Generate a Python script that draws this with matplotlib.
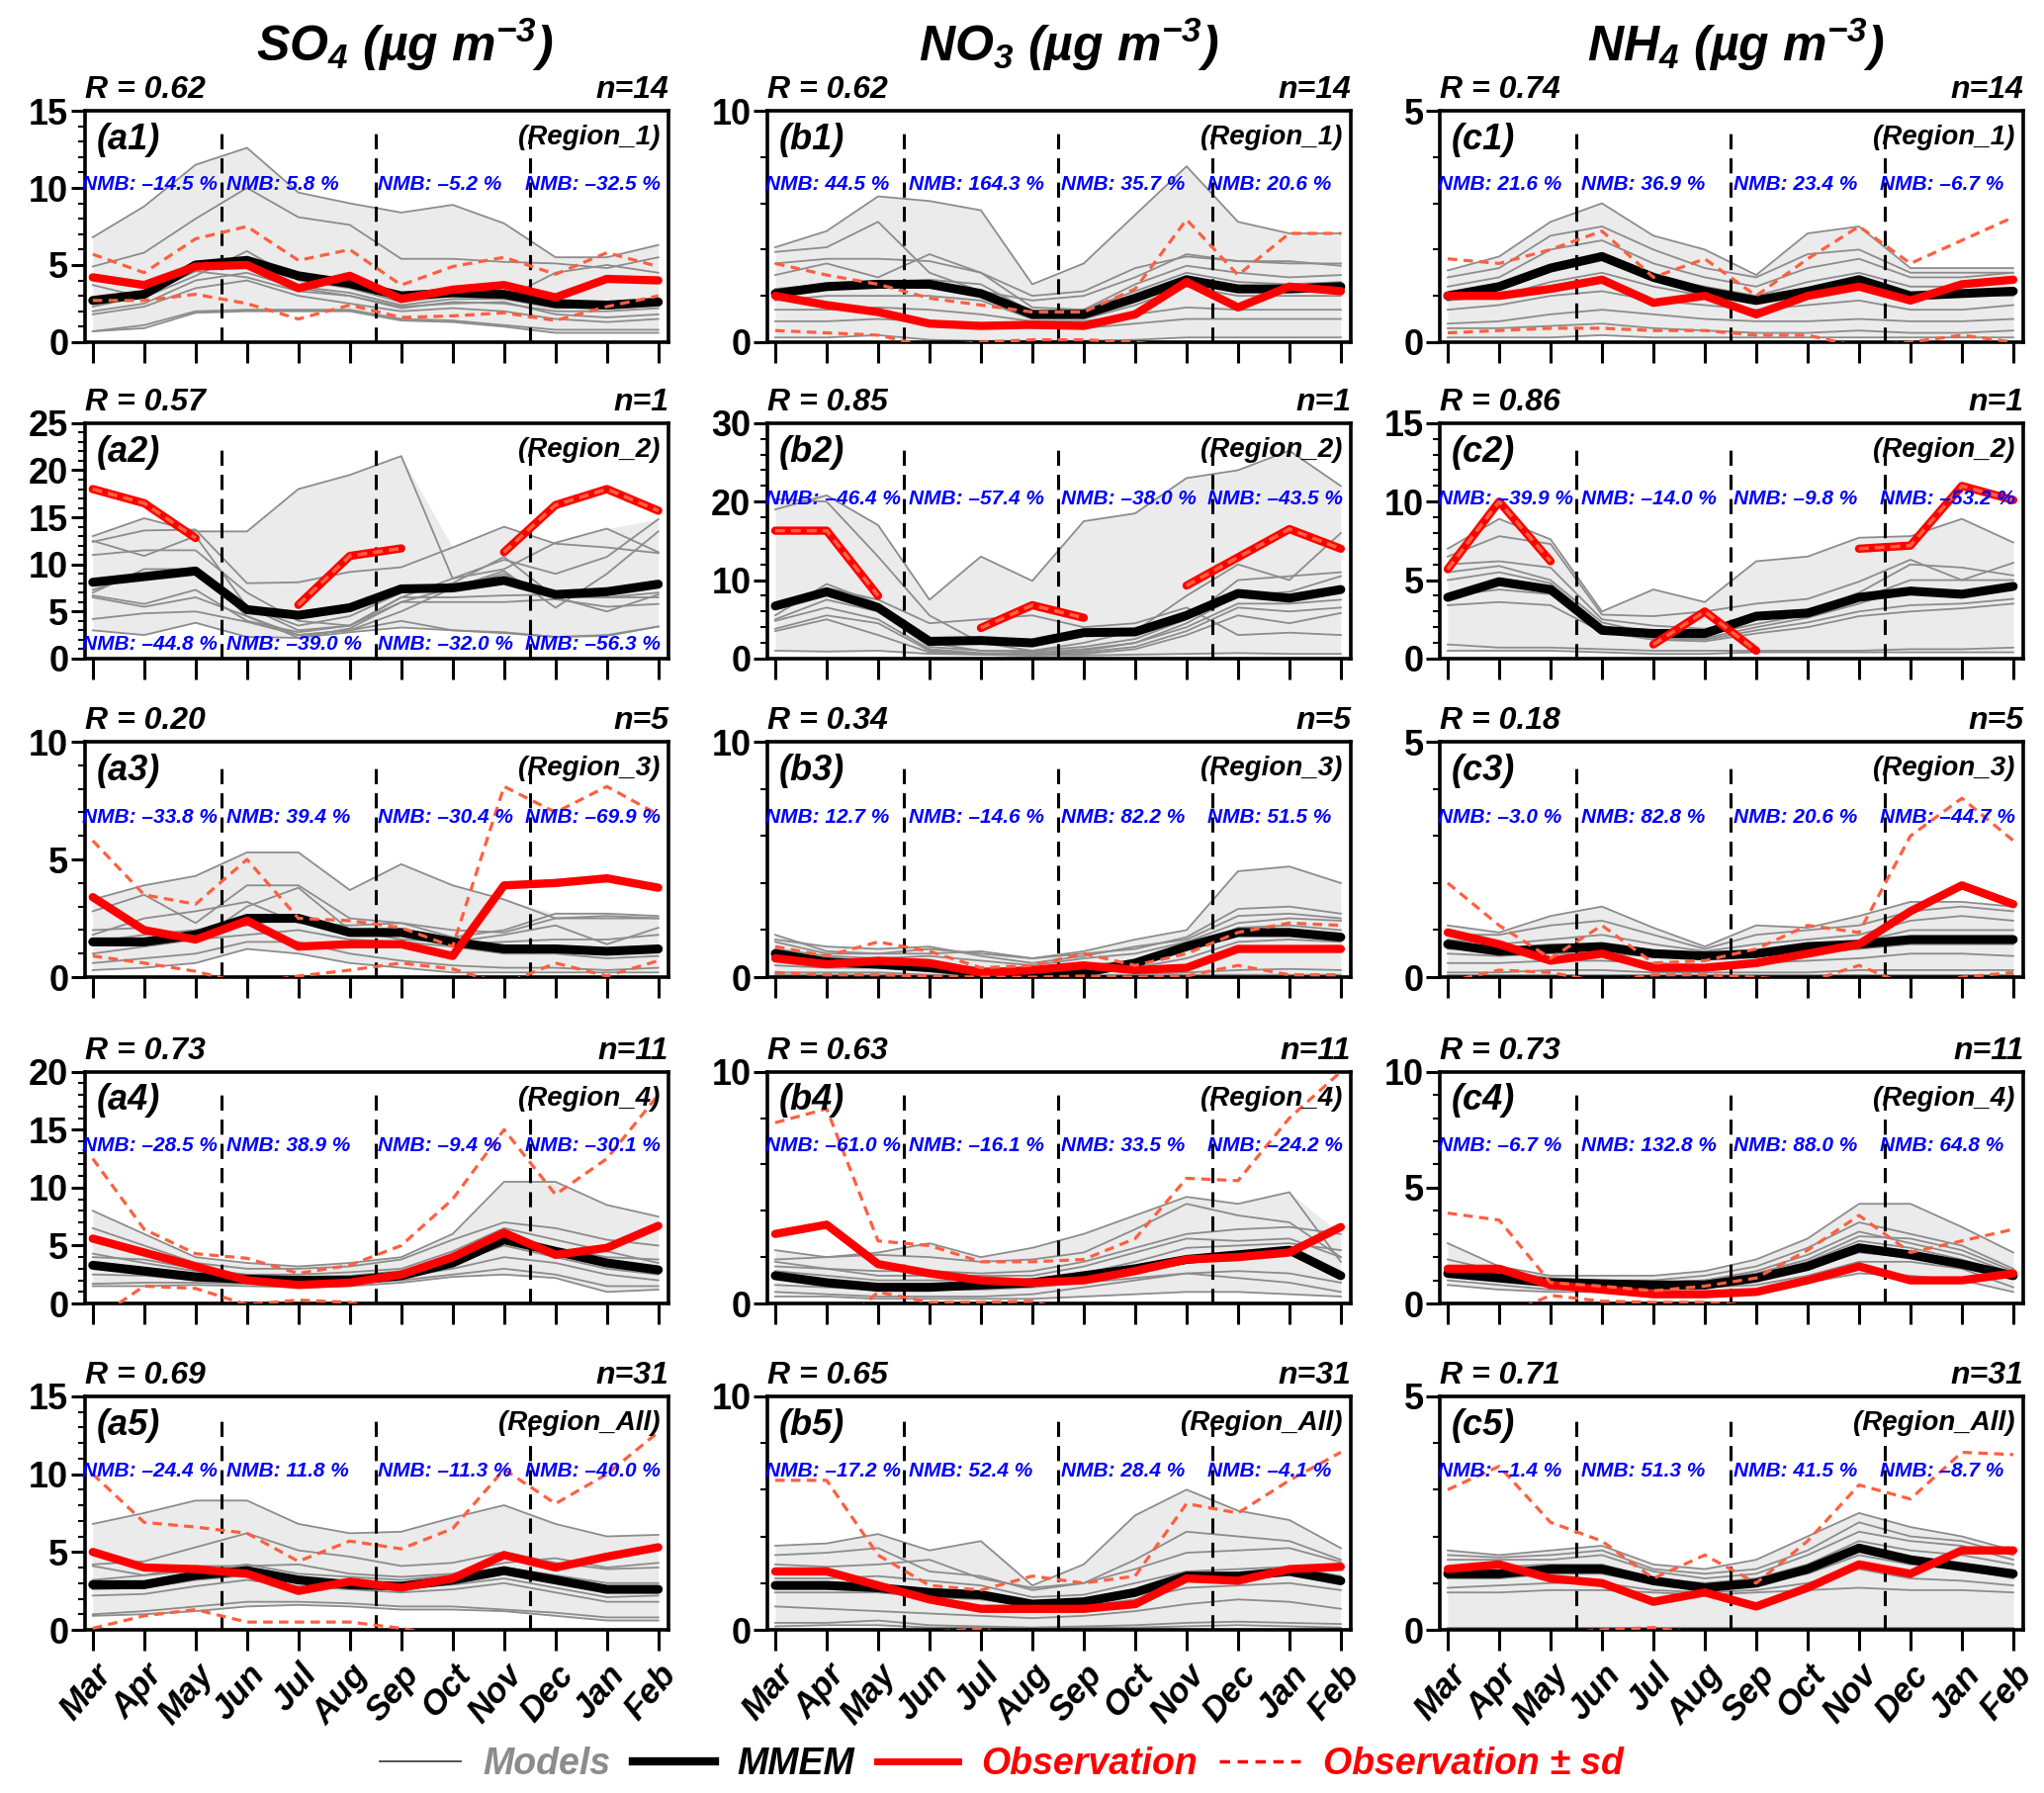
import numpy as np
import matplotlib
matplotlib.use("Agg")
import matplotlib.pyplot as plt
from matplotlib.lines import Line2D
from matplotlib.ticker import MultipleLocator

plt.rcParams['font.family'] = ['Liberation Sans', 'DejaVu Sans']
plt.rcParams['mathtext.fontset'] = 'custom'
plt.rcParams['mathtext.rm'] = 'Liberation Sans:bold:italic'
plt.rcParams['mathtext.it'] = 'Liberation Sans:bold:italic'
plt.rcParams['mathtext.bf'] = 'Liberation Sans:bold:italic'

nan = np.nan
months = ['Mar', 'Apr', 'May', 'Jun', 'Jul', 'Aug', 'Sep', 'Oct', 'Nov', 'Dec', 'Jan', 'Feb']
species = [r'SO$_4$ (µg m$^{-3}$)', r'NO$_3$ (µg m$^{-3}$)', r'NH$_4$ (µg m$^{-3}$)']
regions = ['Region_1', 'Region_2', 'Region_3', 'Region_4', 'Region_All']
n_sites = [14, 1, 5, 11, 31]
r_so4 = [0.62, 0.57, 0.20, 0.73, 0.69]
r_no3 = [0.62, 0.85, 0.34, 0.63, 0.65]
r_nh4 = [0.74, 0.86, 0.18, 0.73, 0.71]

nmb_so4 = [[-14.5, 5.8, -5.2, -32.5], [-44.8, -39.0, -32.0, -56.3], [-33.8, 39.4, -30.4, -69.9],
           [-28.5, 38.9, -9.4, -30.1], [-24.4, 11.8, -11.3, -40.0]]
nmb_no3 = [[44.5, 164.3, 35.7, 20.6], [-46.4, -57.4, -38.0, -43.5], [12.7, -14.6, 82.2, 51.5],
           [-61.0, -16.1, 33.5, -24.2], [-17.2, 52.4, 28.4, -4.1]]
nmb_nh4 = [[21.6, 36.9, 23.4, -6.7], [-39.9, -14.0, -9.8, -53.2], [-3.0, 82.8, 20.6, -44.7],
           [-6.7, 132.8, 88.0, 64.8], [-1.4, 51.3, 41.5, -8.7]]

# ---------------- SO4 ----------------
so4_1_obs = [4.2, 3.7, 4.9, 5.0, 3.5, 4.3, 2.8, 3.4, 3.7, 2.9, 4.1, 4.0]
so4_1_mmem = [2.7, 3.1, 5.0, 5.3, 4.3, 3.8, 3.0, 3.2, 3.1, 2.5, 2.4, 2.6]
so4_1_up = [5.7, 4.5, 6.7, 7.5, 5.3, 6.0, 3.7, 4.9, 5.5, 4.4, 5.8, 4.9]
so4_1_lo = [2.7, 2.7, 3.1, 2.5, 1.5, 2.4, 1.6, 1.7, 1.9, 1.4, 2.3, 3.0]
so4_1_models = [
    [6.8, 8.8, 11.5, 12.6, 9.7, 9.0, 8.4, 8.9, 7.7, 5.5, 5.5, 6.3],
    [4.9, 5.8, 8.0, 10.0, 8.1, 7.6, 5.4, 5.4, 5.2, 5.1, 4.8, 5.5],
    [3.7, 2.9, 4.3, 5.9, 4.0, 3.5, 2.6, 3.0, 2.8, 4.5, 5.0, 4.5],
    [2.3, 3.0, 4.6, 4.2, 3.3, 3.0, 2.2, 2.6, 2.5, 2.0, 2.0, 2.2],
    [2.6, 3.2, 4.9, 4.9, 3.6, 3.2, 2.4, 2.8, 2.8, 2.2, 2.3, 2.5],
    [2.0, 2.5, 4.0, 4.5, 3.5, 3.0, 2.3, 2.5, 2.6, 1.8, 1.6, 1.8],
    [1.8, 2.3, 3.5, 4.0, 3.0, 2.5, 2.0, 2.2, 2.0, 1.5, 1.3, 1.5],
    [0.7, 1.1, 2.0, 2.1, 2.1, 2.1, 1.5, 1.4, 1.1, 0.8, 0.8, 0.8],
    [0.7, 0.9, 1.9, 2.0, 2.0, 2.0, 1.4, 1.3, 1.0, 0.6, 0.6, 0.6],
]

so4_2_obs = [18.0, 16.5, 12.8, nan, 5.7, 10.9, 11.7, nan, 11.3, 16.3, 18.0, 15.7]
so4_2_mmem = [8.1, 8.7, 9.3, 5.2, 4.6, 5.4, 7.4, 7.5, 8.3, 6.8, 7.1, 7.9]
so4_2_up = so4_2_obs
so4_2_lo = so4_2_obs
so4_2_models = [
    [13.0, 14.9, 13.5, 13.5, 18.0, 19.5, 21.5, 8.5, 9.5, 12.3, 13.8, 11.3],
    [12.4, 13.6, 13.7, 8.0, 8.1, 9.2, 9.7, 11.8, 14.0, 12.2, 11.8, 11.2],
    [11.0, 11.5, 11.5, 7.0, 4.0, 3.5, 6.5, 8.5, 10.5, 9.0, 10.8, 14.8],
    [12.5, 10.9, 13.0, 5.5, 3.0, 3.5, 6.0, 7.5, 9.3, 5.4, 9.0, 13.5],
    [7.3, 9.0, 9.0, 5.5, 3.5, 4.5, 7.0, 8.0, 10.8, 6.5, 6.5, 7.0],
    [7.0, 9.5, 9.5, 4.5, 2.5, 3.0, 5.0, 7.5, 9.0, 6.5, 5.0, 6.8],
    [6.7, 5.8, 7.3, 4.0, 2.8, 3.5, 6.5, 6.5, 6.7, 6.8, 6.5, 6.5],
    [6.5, 5.5, 6.5, 4.5, 2.2, 3.2, 6.0, 6.0, 6.0, 6.3, 5.5, 5.8],
    [4.2, 4.8, 5.0, 3.9, 2.5, 3.0, 4.0, 3.0, 2.8, 2.3, 2.5, 3.4],
    [3.0, 2.5, 3.8, 2.3, 2.2, 2.8, 3.3, 3.0, 2.7, 2.3, 2.4, 3.4],
]

so4_3_obs = [3.4, 2.0, 1.6, 2.4, 1.3, 1.4, 1.4, 0.9, 3.9, 4.0, 4.2, 3.8]
so4_3_mmem = [1.5, 1.5, 1.8, 2.5, 2.5, 1.9, 1.9, 1.5, 1.2, 1.2, 1.1, 1.2]
so4_3_up = [5.8, 3.5, 3.1, 5.0, 2.5, 2.4, 2.1, 1.3, 8.1, 7.0, 8.1, 6.9]
so4_3_lo = [0.9, 0.6, 0.25, -0.3, 0.05, 0.3, 0.6, 0.35, -0.3, 0.6, 0.05, 0.7]
so4_3_models = [
    [3.3, 3.9, 4.3, 5.3, 5.3, 3.7, 4.8, 3.9, 3.3, 2.5, 2.5, 2.5],
    [2.8, 3.5, 2.3, 3.9, 3.9, 2.5, 2.3, 2.0, 1.9, 2.5, 2.6, 2.5],
    [1.8, 2.5, 2.8, 3.2, 2.3, 2.2, 2.3, 1.7, 2.0, 2.7, 2.7, 2.6],
    [2.0, 2.1, 1.5, 3.0, 3.8, 2.0, 1.6, 1.5, 1.8, 2.2, 1.4, 2.1],
    [1.5, 1.8, 2.0, 2.2, 2.6, 1.8, 1.9, 1.4, 1.5, 1.6, 1.6, 1.8],
    [1.0, 1.3, 1.6, 1.8, 2.0, 1.6, 1.5, 1.3, 1.0, 1.0, 0.8, 0.9],
    [0.6, 0.8, 1.0, 1.5, 1.5, 1.0, 0.7, 0.5, 0.4, 0.4, 0.3, 0.4],
    [0.3, 0.4, 0.6, 1.2, 1.0, 0.6, 0.4, 0.2, 0.2, 0.2, 0.2, 0.2],
]

so4_4_obs = [5.6, 4.4, 3.2, 2.0, 1.6, 1.8, 2.5, 4.0, 6.1, 4.2, 4.8, 6.7]
so4_4_mmem = [3.3, 2.8, 2.3, 2.1, 2.0, 2.0, 2.4, 3.5, 5.5, 4.5, 3.5, 2.9]
so4_4_up = [12.5, 6.4, 4.3, 3.9, 2.6, 3.3, 5.0, 9.0, 15.0, 9.4, 12.5, 18.0]
so4_4_lo = [-1.5, 1.5, 1.3, -0.1, 0.3, 0.1, -1.0, -1.5, -2.0, -1.0, -3.0, -5.0]
so4_4_models = [
    [8.0, 6.0, 4.0, 3.5, 3.2, 3.5, 4.0, 6.0, 10.5, 10.5, 8.5, 7.5],
    [6.5, 5.0, 3.5, 3.0, 3.0, 3.2, 3.8, 5.5, 7.0, 6.5, 5.5, 5.0],
    [4.3, 3.5, 2.8, 2.4, 2.3, 2.4, 2.8, 4.0, 6.0, 4.8, 4.0, 3.8],
    [4.0, 3.8, 3.0, 2.5, 2.5, 2.7, 3.0, 4.5, 6.5, 5.5, 4.5, 3.5],
    [3.5, 3.0, 2.5, 2.2, 2.0, 2.0, 2.5, 3.5, 5.0, 4.0, 3.0, 2.5],
    [2.5, 2.4, 2.0, 1.9, 1.8, 1.9, 2.3, 3.0, 4.0, 3.5, 2.5, 2.0],
    [1.7, 1.8, 1.8, 1.7, 1.6, 1.7, 2.0, 2.5, 3.0, 2.5, 1.5, 1.5],
    [1.5, 1.5, 1.6, 1.5, 1.4, 1.5, 1.8, 2.3, 2.5, 2.2, 1.0, 1.2],
]

so4_5_obs = [5.0, 4.0, 3.9, 3.6, 2.5, 3.1, 2.7, 3.3, 4.8, 4.0, 4.7, 5.3]
so4_5_mmem = [2.9, 2.9, 3.5, 3.8, 3.2, 2.9, 2.8, 3.2, 3.8, 3.2, 2.6, 2.6]
so4_5_up = [10.0, 6.9, 6.6, 6.2, 4.4, 5.7, 5.2, 6.5, 10.3, 8.1, 10.0, 12.7]
so4_5_lo = [0.1, 0.9, 1.3, 0.5, 0.5, 0.5, 0.1, -0.5, -1.0, -0.5, -1.0, -2.0]
so4_5_models = [
    [6.8, 7.5, 8.3, 8.3, 6.8, 6.2, 6.3, 7.2, 8.0, 6.8, 6.0, 6.1],
    [4.2, 4.4, 5.3, 6.2, 5.1, 4.7, 4.1, 4.3, 5.0, 4.3, 3.9, 4.0],
    [4.1, 3.5, 4.1, 4.1, 4.2, 3.6, 3.4, 3.6, 4.3, 4.6, 4.0, 4.3],
    [3.2, 3.5, 3.8, 4.2, 3.6, 3.4, 3.2, 3.5, 4.0, 3.5, 3.0, 3.0],
    [2.6, 2.7, 3.2, 3.5, 3.0, 2.8, 2.7, 2.9, 3.3, 2.7, 2.1, 2.2],
    [2.2, 2.3, 2.8, 3.2, 2.8, 2.6, 2.4, 2.6, 3.0, 2.4, 1.8, 1.8],
    [1.0, 1.2, 1.5, 1.8, 1.8, 1.7, 1.5, 1.5, 1.3, 1.1, 0.8, 0.8],
    [0.9, 1.0, 1.2, 1.5, 1.6, 1.5, 1.3, 1.3, 1.2, 0.9, 0.6, 0.6],
]

# ---------------- NO3 ----------------
no3_1_obs = [2.0, 1.6, 1.3, 0.8, 0.7, 0.75, 0.7, 1.2, 2.6, 1.5, 2.4, 2.2]
no3_1_mmem = [2.1, 2.4, 2.5, 2.5, 2.1, 1.2, 1.2, 1.9, 2.7, 2.3, 2.3, 2.4]
no3_1_up = [3.4, 2.9, 2.5, 1.9, 1.6, 1.3, 1.3, 2.3, 5.3, 2.9, 4.7, 4.7]
no3_1_lo = [0.5, 0.4, 0.3, -0.2, 0.0, 0.1, 0.1, 0.0, -0.3, -0.3, -0.5, -0.3]
no3_1_models = [
    [4.1, 4.8, 6.3, 6.1, 5.7, 2.5, 3.4, 5.5, 7.6, 5.2, 4.7, 4.7],
    [3.9, 4.1, 5.2, 3.0, 2.2, 1.8, 2.0, 2.8, 3.8, 3.5, 3.4, 3.4],
    [3.4, 3.6, 3.6, 3.5, 3.0, 1.5, 1.4, 2.5, 3.3, 3.0, 2.8, 2.9],
    [2.9, 3.4, 2.8, 3.8, 3.0, 2.0, 2.2, 3.2, 3.7, 3.5, 3.5, 3.3],
    [2.3, 2.5, 2.6, 2.7, 2.5, 1.3, 1.4, 2.2, 3.0, 2.6, 2.5, 2.6],
    [1.8, 2.0, 2.0, 2.0, 1.8, 1.0, 1.0, 1.6, 2.4, 2.0, 2.0, 2.0],
    [1.4, 1.4, 1.5, 1.4, 1.2, 0.9, 0.9, 1.2, 1.5, 1.4, 1.4, 1.4],
    [0.9, 0.9, 1.0, 0.9, 0.8, 0.6, 0.6, 0.8, 1.0, 1.0, 1.0, 1.0],
    [0.2, 0.2, 0.3, 0.1, 0.05, 0.05, 0.05, 0.1, 0.2, 0.2, 0.2, 0.2],
]

no3_2_obs = [16.3, 16.3, 8.0, nan, 3.9, 6.8, 5.2, nan, 9.3, 12.9, 16.5, 14.0]
no3_2_mmem = [6.7, 8.5, 6.5, 2.2, 2.3, 2.0, 3.3, 3.4, 5.5, 8.3, 7.7, 8.8]
no3_2_up = no3_2_obs
no3_2_lo = no3_2_obs
no3_2_models = [
    [19.0, 20.8, 17.0, 7.5, 13.0, 9.9, 17.5, 18.5, 23.0, 24.0, 26.5, 22.0],
    [20.3, 20.0, 13.0, 5.5, 2.0, 1.0, 2.0, 3.5, 8.0, 12.0, 10.0, 16.0],
    [7.0, 9.0, 7.5, 4.5, 5.0, 5.5, 4.0, 4.5, 6.5, 3.0, 3.3, 3.0],
    [5.5, 9.5, 7.0, 2.0, 1.0, 1.0, 1.5, 2.5, 5.0, 10.0, 10.5, 11.0],
    [5.0, 7.5, 6.0, 1.5, 1.0, 0.8, 1.2, 2.0, 4.5, 8.0, 8.5, 10.5],
    [4.8, 6.5, 5.0, 1.2, 0.7, 0.6, 1.0, 2.0, 4.0, 7.0, 7.0, 7.5],
    [3.8, 5.5, 4.5, 1.0, 0.6, 0.5, 0.8, 1.5, 3.5, 6.5, 6.0, 6.5],
    [3.5, 5.0, 3.0, 0.8, 0.5, 0.4, 0.6, 1.2, 3.0, 5.5, 4.5, 5.8],
    [1.0, 0.9, 1.0, 0.6, 0.5, 0.4, 0.4, 0.5, 0.6, 0.7, 0.6, 0.6],
]

no3_3_obs = [0.8, 0.55, 0.7, 0.6, 0.2, 0.3, 0.5, 0.3, 0.4, 1.2, 1.2, 1.2]
no3_3_mmem = [1.0, 0.65, 0.55, 0.4, 0.2, 0.1, 0.2, 0.6, 1.3, 1.9, 1.9, 1.7]
no3_3_up = [1.3, 0.9, 1.5, 1.1, 0.4, 0.5, 1.0, 0.5, 1.0, 1.9, 2.3, 2.2]
no3_3_lo = [0.2, 0.1, 0.1, 0.05, 0.0, 0.0, 0.05, 0.0, 0.05, 0.5, 0.1, 0.1]
no3_3_models = [
    [1.8, 1.1, 1.0, 1.2, 1.0, 0.8, 1.1, 1.6, 2.0, 4.5, 4.7, 4.0],
    [1.5, 1.0, 1.0, 1.0, 1.1, 0.8, 1.0, 1.2, 1.7, 2.9, 3.0, 2.7],
    [1.6, 1.3, 1.2, 1.3, 0.9, 0.6, 0.9, 1.3, 1.6, 2.6, 2.7, 2.5],
    [1.2, 0.9, 0.8, 0.9, 0.7, 0.5, 0.8, 1.0, 1.5, 2.3, 2.5, 2.4],
    [0.9, 0.7, 0.6, 0.6, 0.4, 0.3, 0.5, 0.7, 1.2, 2.1, 2.2, 2.0],
    [0.5, 0.4, 0.4, 0.3, 0.2, 0.2, 0.3, 0.4, 0.8, 1.5, 1.6, 1.5],
    [0.2, 0.2, 0.2, 0.1, 0.1, 0.05, 0.1, 0.1, 0.2, 0.3, 0.35, 0.3],
    [0.1, 0.1, 0.1, 0.05, 0.05, 0.02, 0.05, 0.05, 0.1, 0.1, 0.1, 0.1],
]

no3_4_obs = [3.0, 3.4, 1.7, 1.3, 1.0, 0.9, 1.0, 1.4, 1.9, 2.0, 2.2, 3.3]
no3_4_mmem = [1.2, 0.9, 0.7, 0.7, 0.8, 0.9, 1.2, 1.5, 1.9, 2.1, 2.3, 1.2]
no3_4_up = [7.8, 8.4, 2.7, 2.5, 1.8, 1.8, 1.9, 2.8, 5.4, 5.3, 8.0, 10.0]
no3_4_lo = [-2.0, -1.5, 0.5, 0.05, 0.05, 0.1, -0.5, -0.5, -1.5, -1.2, -3.5, -3.5]
no3_4_models = [
    [2.3, 2.0, 2.2, 2.6, 2.0, 2.4, 3.0, 3.8, 4.6, 4.3, 4.8, 1.8],
    [1.9, 2.0, 2.1, 2.0, 1.8, 1.9, 2.2, 3.2, 4.3, 3.8, 3.5, 2.0],
    [1.8, 1.5, 1.2, 1.2, 1.2, 1.2, 1.6, 2.2, 2.8, 2.7, 2.8, 2.0],
    [1.6, 1.5, 1.4, 1.4, 1.3, 1.4, 1.8, 2.4, 3.0, 3.2, 3.3, 3.0],
    [1.4, 1.2, 1.0, 1.0, 1.0, 1.0, 1.3, 1.8, 2.4, 2.5, 2.6, 2.3],
    [0.8, 0.7, 0.6, 0.6, 0.6, 0.7, 0.9, 1.1, 1.3, 1.4, 1.3, 0.9],
    [0.5, 0.4, 0.3, 0.3, 0.3, 0.4, 0.7, 1.0, 1.3, 1.1, 0.9, 0.5],
    [0.3, 0.3, 0.2, 0.2, 0.2, 0.2, 0.3, 0.4, 0.5, 0.5, 0.4, 0.3],
]

no3_5_obs = [2.5, 2.5, 1.9, 1.3, 0.9, 0.9, 0.9, 1.1, 2.2, 2.1, 2.6, 2.7]
no3_5_mmem = [1.9, 1.9, 1.8, 1.6, 1.5, 1.1, 1.2, 1.6, 2.3, 2.3, 2.5, 2.1]
no3_5_up = [6.4, 6.4, 3.2, 1.9, 1.7, 2.3, 2.0, 2.3, 5.4, 5.0, 6.4, 7.6]
no3_5_lo = [-1.4, -1.4, -0.1, -0.1, 0.05, -0.5, -0.2, -0.1, -1.0, -0.8, -1.2, -2.2]
no3_5_models = [
    [3.6, 3.7, 4.1, 3.4, 3.8, 1.9, 2.8, 4.9, 6.0, 5.1, 4.7, 3.5],
    [3.2, 3.3, 3.5, 2.5, 2.3, 1.7, 2.0, 3.0, 4.2, 4.0, 3.8, 3.0],
    [2.8, 2.7, 2.8, 3.0, 2.2, 1.8, 2.0, 2.6, 3.3, 3.4, 3.5, 2.9],
    [2.2, 2.2, 2.3, 2.1, 1.9, 1.4, 1.5, 2.0, 2.5, 2.6, 2.7, 2.3],
    [1.6, 1.6, 1.6, 1.4, 1.3, 1.0, 1.0, 1.3, 1.8, 1.9, 2.0, 1.7],
    [1.0, 0.9, 0.8, 0.7, 0.6, 0.5, 0.6, 0.8, 1.1, 1.3, 1.2, 0.9],
    [0.3, 0.3, 0.4, 0.2, 0.15, 0.1, 0.15, 0.2, 0.3, 0.35, 0.3, 0.25],
    [0.15, 0.2, 0.2, 0.1, 0.1, 0.05, 0.1, 0.1, 0.15, 0.2, 0.15, 0.1],
]

# ---------------- NH4 ----------------
nh4_1_obs = [1.0, 1.0, 1.15, 1.35, 0.85, 1.0, 0.6, 1.0, 1.2, 0.9, 1.25, 1.35]
nh4_1_mmem = [1.0, 1.2, 1.6, 1.85, 1.4, 1.1, 0.9, 1.1, 1.35, 1.0, 1.05, 1.1]
nh4_1_up = [1.8, 1.7, 2.0, 2.4, 1.4, 1.8, 1.0, 1.8, 2.5, 1.7, 2.2, 2.7]
nh4_1_lo = [0.2, 0.25, 0.3, 0.3, 0.25, 0.25, 0.15, 0.15, -0.1, 0.0, 0.15, 0.0]
nh4_1_models = [
    [1.55, 1.85, 2.6, 3.0, 2.3, 2.0, 1.45, 2.35, 2.5, 1.6, 1.6, 1.6],
    [1.4, 1.6, 2.3, 2.5, 2.0, 1.6, 1.4, 1.9, 2.0, 1.5, 1.5, 1.5],
    [1.2, 1.4, 2.0, 2.2, 1.7, 1.4, 1.2, 1.6, 1.8, 1.4, 1.4, 1.5],
    [1.0, 1.2, 1.6, 1.8, 1.4, 1.2, 1.0, 1.3, 1.5, 1.2, 1.2, 1.3],
    [0.9, 1.0, 1.3, 1.5, 1.2, 1.0, 0.9, 1.1, 1.3, 1.0, 1.0, 1.0],
    [0.7, 0.8, 1.0, 1.1, 0.9, 0.8, 0.7, 0.8, 0.9, 0.7, 0.7, 0.8],
    [0.4, 0.45, 0.6, 0.7, 0.6, 0.5, 0.45, 0.45, 0.5, 0.45, 0.45, 0.5],
    [0.3, 0.3, 0.35, 0.4, 0.3, 0.25, 0.2, 0.2, 0.25, 0.2, 0.2, 0.25],
    [0.1, 0.1, 0.1, 0.15, 0.1, 0.1, 0.1, 0.1, 0.1, 0.1, 0.1, 0.1],
]

nh4_2_obs = [5.7, 10.0, 6.2, nan, 0.9, 3.0, 0.5, nan, 7.0, 7.2, 11.0, 10.1]
nh4_2_mmem = [3.9, 4.9, 4.4, 1.8, 1.6, 1.6, 2.7, 2.9, 3.9, 4.3, 4.1, 4.6]
nh4_2_up = nh4_2_obs
nh4_2_lo = nh4_2_obs
nh4_2_models = [
    [7.0, 8.9, 7.6, 3.0, 4.4, 3.6, 6.2, 6.5, 7.7, 7.8, 8.9, 7.4],
    [6.5, 7.8, 7.3, 2.8, 2.7, 3.0, 3.5, 3.8, 4.9, 6.3, 5.0, 6.1],
    [6.0, 6.2, 5.8, 2.5, 2.1, 1.9, 2.5, 3.0, 4.2, 6.0, 5.8, 5.3],
    [5.5, 5.9, 5.0, 2.3, 1.6, 1.5, 2.2, 2.8, 3.8, 5.0, 5.0, 5.0],
    [5.0, 5.5, 4.8, 2.1, 1.4, 1.3, 2.0, 2.6, 3.5, 4.5, 4.2, 4.7],
    [4.0, 4.4, 4.1, 1.9, 1.3, 1.2, 1.8, 2.3, 3.0, 3.4, 3.5, 3.8],
    [3.4, 3.6, 3.4, 1.7, 1.2, 1.1, 1.6, 2.0, 2.7, 3.0, 3.2, 3.5],
    [0.9, 0.7, 0.7, 0.6, 0.5, 0.5, 0.5, 0.5, 0.5, 0.6, 0.6, 0.7],
    [0.5, 0.5, 0.5, 0.4, 0.3, 0.3, 0.4, 0.4, 0.4, 0.4, 0.4, 0.4],
]

nh4_3_obs = [0.95, 0.7, 0.35, 0.5, 0.2, 0.2, 0.3, 0.5, 0.7, 1.4, 1.95, 1.55]
nh4_3_mmem = [0.7, 0.55, 0.6, 0.65, 0.5, 0.45, 0.5, 0.65, 0.7, 0.8, 0.8, 0.8]
nh4_3_up = [2.0, 1.1, 0.4, 1.1, 0.3, 0.35, 0.6, 1.1, 0.95, 3.0, 3.8, 2.9]
nh4_3_lo = [-0.1, 0.15, 0.1, -0.1, 0.05, 0.05, 0.0, -0.1, 0.25, -0.2, 0.0, 0.1]
nh4_3_models = [
    [1.1, 0.95, 1.3, 1.5, 1.05, 0.65, 1.1, 1.05, 1.3, 1.6, 1.6, 1.5],
    [0.9, 0.9, 1.1, 1.2, 0.9, 0.6, 0.9, 1.0, 1.1, 1.4, 1.5, 1.4],
    [0.8, 0.7, 0.8, 0.9, 0.7, 0.55, 0.7, 0.8, 0.9, 1.2, 1.3, 1.2],
    [0.6, 0.6, 0.7, 0.7, 0.55, 0.45, 0.55, 0.65, 0.75, 1.0, 1.0, 1.0],
    [0.5, 0.45, 0.5, 0.5, 0.45, 0.4, 0.45, 0.5, 0.6, 0.7, 0.7, 0.7],
    [0.3, 0.3, 0.35, 0.35, 0.3, 0.25, 0.3, 0.35, 0.4, 0.5, 0.5, 0.45],
    [0.1, 0.1, 0.15, 0.15, 0.1, 0.1, 0.1, 0.1, 0.15, 0.15, 0.15, 0.15],
    [0.05, 0.05, 0.05, 0.05, 0.05, 0.05, 0.05, 0.05, 0.05, 0.05, 0.05, 0.05],
]

nh4_4_obs = [1.5, 1.5, 0.8, 0.6, 0.4, 0.4, 0.5, 1.0, 1.6, 1.0, 1.0, 1.3]
nh4_4_mmem = [1.3, 1.1, 0.9, 0.85, 0.8, 0.8, 1.1, 1.6, 2.4, 2.1, 1.7, 1.2]
nh4_4_up = [3.9, 3.6, 0.9, 0.75, 0.55, 0.75, 1.1, 2.3, 3.8, 2.2, 2.7, 3.2]
nh4_4_lo = [-1.0, -0.6, 0.35, 0.1, 0.05, 0.05, -0.1, -0.3, -0.6, -0.2, -0.7, -0.6]
nh4_4_models = [
    [2.6, 1.6, 1.2, 1.2, 1.2, 1.4, 1.9, 2.8, 4.3, 4.3, 3.3, 2.2],
    [1.9, 1.4, 1.1, 1.0, 1.0, 1.2, 1.6, 2.4, 3.5, 3.0, 2.5, 1.5],
    [1.6, 1.3, 1.0, 0.9, 0.9, 1.0, 1.4, 2.1, 3.1, 2.6, 2.1, 1.3],
    [1.3, 1.2, 1.0, 0.9, 0.9, 1.0, 1.3, 1.9, 2.9, 2.8, 2.3, 1.4],
    [1.4, 1.1, 0.9, 0.8, 0.8, 0.9, 1.2, 1.8, 2.7, 2.4, 1.9, 1.2],
    [1.2, 1.0, 0.8, 0.7, 0.7, 0.8, 1.0, 1.5, 2.2, 2.0, 1.7, 1.1],
    [1.0, 0.8, 0.6, 0.6, 0.6, 0.7, 0.8, 1.2, 1.8, 1.8, 1.5, 0.7],
    [0.8, 0.6, 0.5, 0.5, 0.5, 0.5, 0.6, 0.9, 1.3, 1.2, 1.0, 0.5],
]

nh4_5_obs = [1.3, 1.4, 1.1, 1.0, 0.6, 0.8, 0.5, 0.9, 1.4, 1.2, 1.7, 1.7]
nh4_5_mmem = [1.2, 1.2, 1.3, 1.3, 1.05, 0.9, 1.0, 1.3, 1.75, 1.5, 1.35, 1.2]
nh4_5_up = [3.0, 3.5, 2.3, 1.9, 1.1, 1.6, 1.0, 1.9, 3.1, 2.8, 3.8, 3.75]
nh4_5_lo = [-0.4, -0.6, -0.1, 0.0, 0.05, -0.1, -0.1, -0.3, -0.3, -0.4, -0.5, -0.4]
nh4_5_models = [
    [1.7, 1.6, 1.7, 1.8, 1.4, 1.3, 1.5, 2.0, 2.5, 2.2, 2.0, 1.7],
    [1.6, 1.55, 1.6, 1.7, 1.3, 1.2, 1.3, 1.7, 2.3, 2.0, 1.9, 1.6],
    [1.5, 1.5, 1.5, 1.6, 1.25, 1.1, 1.2, 1.6, 2.1, 1.9, 1.8, 1.5],
    [1.3, 1.35, 1.4, 1.4, 1.1, 1.0, 1.1, 1.4, 1.9, 1.7, 1.6, 1.4],
    [1.1, 1.1, 1.2, 1.2, 1.0, 0.9, 1.0, 1.2, 1.6, 1.4, 1.3, 1.1],
    [0.9, 0.95, 1.0, 1.0, 0.85, 0.8, 0.85, 1.0, 1.3, 1.1, 1.05, 0.95],
    [0.8, 0.8, 0.85, 0.85, 0.8, 0.75, 0.8, 0.85, 0.9, 0.85, 0.85, 0.8],
    [0.05, 0.05, 0.05, 0.05, 0.05, 0.05, 0.05, 0.05, 0.05, 0.05, 0.05, 0.05],
]

# panel table: (obs, mmem, up, lo, models)
panels = [
    [(so4_1_obs, so4_1_mmem, so4_1_up, so4_1_lo, so4_1_models),
     (so4_2_obs, so4_2_mmem, so4_2_up, so4_2_lo, so4_2_models),
     (so4_3_obs, so4_3_mmem, so4_3_up, so4_3_lo, so4_3_models),
     (so4_4_obs, so4_4_mmem, so4_4_up, so4_4_lo, so4_4_models),
     (so4_5_obs, so4_5_mmem, so4_5_up, so4_5_lo, so4_5_models)],
    [(no3_1_obs, no3_1_mmem, no3_1_up, no3_1_lo, no3_1_models),
     (no3_2_obs, no3_2_mmem, no3_2_up, no3_2_lo, no3_2_models),
     (no3_3_obs, no3_3_mmem, no3_3_up, no3_3_lo, no3_3_models),
     (no3_4_obs, no3_4_mmem, no3_4_up, no3_4_lo, no3_4_models),
     (no3_5_obs, no3_5_mmem, no3_5_up, no3_5_lo, no3_5_models)],
    [(nh4_1_obs, nh4_1_mmem, nh4_1_up, nh4_1_lo, nh4_1_models),
     (nh4_2_obs, nh4_2_mmem, nh4_2_up, nh4_2_lo, nh4_2_models),
     (nh4_3_obs, nh4_3_mmem, nh4_3_up, nh4_3_lo, nh4_3_models),
     (nh4_4_obs, nh4_4_mmem, nh4_4_up, nh4_4_lo, nh4_4_models),
     (nh4_5_obs, nh4_5_mmem, nh4_5_up, nh4_5_lo, nh4_5_models)],
]
r_vals = [r_so4, r_no3, r_nh4]
nmb_vals = [nmb_so4, nmb_no3, nmb_nh4]
ymax = [[15, 25, 10, 20, 15], [10, 30, 10, 10, 10], [5, 15, 5, 10, 5]]
ymajor = [[5, 5, 5, 5, 5], [10, 10, 10, 10, 10], [5, 5, 5, 5, 5]]
yminor = [1, 2, 1]
letters = ['a', 'b', 'c']

SD_COLOR = '#ff5f3f'
MODEL_COLOR = '#8c8c8c'
FILL_COLOR = '#ebebeb'

fig = plt.figure(figsize=(20.67, 18.13), dpi=100)

col_left = [0.0416, 0.3755, 0.7045]
col_w = 0.2855
row_bottom = [0.8092, 0.6327, 0.4550, 0.2730, 0.0910]
row_h = [0.129, 0.1313, 0.1313, 0.1293, 0.1303]
title_x = [0.198, 0.523, 0.849]

x = np.arange(12)
for c in range(3):
    fig.text(title_x[c], 0.975, species[c], fontsize=36, fontweight='bold',
             fontstyle='italic', ha='center', va='center')
    for r in range(5):
        obs, mmem, up, lo, models = panels[c][r]
        ax = fig.add_axes([col_left[c], row_bottom[r], col_w, row_h[r]])
        mod = np.array(models)
        ax.fill_between(x, mod.min(axis=0), mod.max(axis=0), color=FILL_COLOR, lw=0, zorder=1)
        for m in models:
            ax.plot(x, m, color=MODEL_COLOR, lw=1.3, zorder=2)
        for xv in [2.5, 5.5, 8.5]:
            ax.axvline(xv, ymin=0, ymax=0.92, color='black', lw=2.2,
                       dashes=(5, 3), zorder=2.5)
        ax.plot(x, mmem, color='black', lw=6.5, solid_capstyle='round', zorder=3)
        ax.plot(x, obs, color='red', lw=6.0, solid_capstyle='round', zorder=4)
        ax.plot(x, up, color=SD_COLOR, lw=2.3, dashes=(3, 2), zorder=5)
        ax.plot(x, lo, color=SD_COLOR, lw=2.3, dashes=(3, 2), zorder=5)

        ax.set_xlim(-0.15, 11.2)
        ax.set_ylim(0, ymax[c][r])
        ax.yaxis.set_major_locator(MultipleLocator(ymajor[c][r]))
        ax.yaxis.set_minor_locator(MultipleLocator(yminor[c]))
        ax.set_xticks(x)
        if r == 4:
            ax.set_xticklabels(months, rotation=50, ha='right', va='top',
                               rotation_mode='anchor', fontsize=25,
                               fontweight='bold', fontstyle='italic')
        else:
            ax.set_xticklabels([])
        ax.tick_params(axis='x', direction='out', length=15, width=2.2, pad=6)
        ax.tick_params(axis='y', which='major', direction='out', length=10, width=2.2,
                       labelsize=26, pad=2)
        ax.tick_params(axis='y', which='minor', direction='out', length=5, width=1.5)
        for lab in ax.get_yticklabels():
            lab.set_fontweight('bold')
        for sp in ax.spines.values():
            sp.set_linewidth(2.6)

        txt = dict(fontweight='bold', fontstyle='italic')
        ax.text(0.0, 1.025, 'R = %.2f' % r_vals[c][r], transform=ax.transAxes,
                fontsize=23, ha='left', va='bottom', **txt)
        ax.text(1.0, 1.025, 'n=%d' % n_sites[r], transform=ax.transAxes,
                fontsize=23, ha='right', va='bottom', **txt)
        ax.text(0.02, 0.95, '(%s%d)' % (letters[c], r + 1), transform=ax.transAxes,
                fontsize=26, ha='left', va='top', zorder=10, **txt)
        ax.text(0.985, 0.94, '(%s)' % regions[r], transform=ax.transAxes,
                fontsize=20, ha='right', va='top', zorder=10, **txt)
        ny = 0.06 if (c == 0 and r == 1) else 0.68
        for k, xs in enumerate([-0.2, 2.6, 5.55, 8.4]):
            s = ('NMB: %.1f %%' % nmb_vals[c][r][k]).replace('-', '\u2013')
            ax.text(xs, ny, s, transform=ax.get_xaxis_transform(), color='blue',
                    fontsize=15, ha='left', va='center', zorder=10, **txt)

handles = [Line2D([], [], color='#444444', lw=1.3),
           Line2D([], [], color='black', lw=6),
           Line2D([], [], color='red', lw=5),
           Line2D([], [], color='red', lw=2.5, dashes=(3, 2.2))]
labels = ['Models', 'MMEM', 'Observation', 'Observation ± sd']
leg = fig.legend(handles, labels, loc='center', bbox_to_anchor=(0.49, 0.016), ncol=4,
                 frameon=False, handlelength=2.2, columnspacing=0.6, handletextpad=0.6,
                 prop=dict(family=['Liberation Sans', 'DejaVu Sans'], weight='bold',
                           style='italic', size=27))
for t, col in zip(leg.get_texts(), ['#8c8c8c', 'black', 'red', 'red']):
    t.set_color(col)

fig.savefig('out.png', dpi=100)
